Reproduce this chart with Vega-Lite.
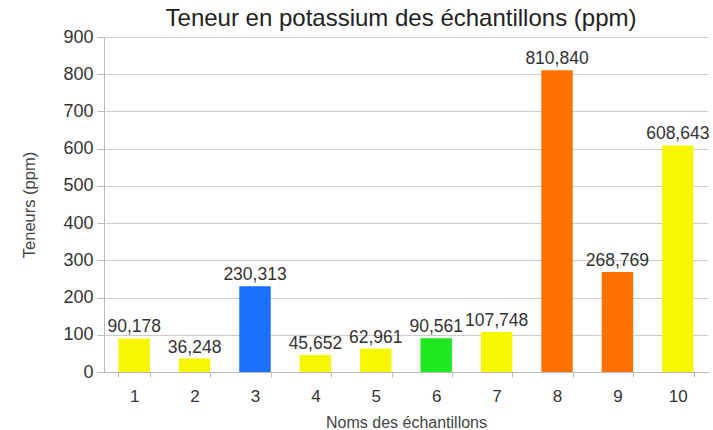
{
  "$schema": "https://vega.github.io/schema/vega-lite/v6.json",
  "width": 604,
  "height": 335,
  "autosize": "none",
  "padding": {"left": 104, "top": 37, "right": 5, "bottom": 58},
  "background": "white",
  "config": {
    "locale": {"number": {"decimal": ",", "thousands": " ", "grouping": [3], "currency": ["", " €"]}},
    "view": {"stroke": null},
    "font": "Liberation Sans"
  },
  "title": {
    "text": "Teneur en potassium des échantillons (ppm)",
    "fontSize": 24,
    "fontWeight": "normal",
    "color": "#222",
    "font": "Liberation Sans",
    "anchor": "middle",
    "offset": -3,
    "dx": -5
  },
  "data": {
    "values": [
      {"echantillon": "1", "teneur": 90.178, "groupe": "a"},
      {"echantillon": "2", "teneur": 36.248, "groupe": "a"},
      {"echantillon": "3", "teneur": 230.313, "groupe": "b"},
      {"echantillon": "4", "teneur": 45.652, "groupe": "a"},
      {"echantillon": "5", "teneur": 62.961, "groupe": "a"},
      {"echantillon": "6", "teneur": 90.561, "groupe": "c"},
      {"echantillon": "7", "teneur": 107.748, "groupe": "a"},
      {"echantillon": "8", "teneur": 810.84, "groupe": "d"},
      {"echantillon": "9", "teneur": 268.769, "groupe": "d"},
      {"echantillon": "10", "teneur": 608.643, "groupe": "a"}
    ]
  },
  "encoding": {
    "x": {
      "field": "echantillon",
      "type": "ordinal",
      "sort": null,
      "scale": {"paddingInner": 0.48, "paddingOuter": 0.24},
      "axis": {
        "title": "Noms des échantillons",
        "titleFontSize": 16,
        "titleFontWeight": "normal",
        "titleColor": "#444",
        "titlePadding": 10,
        "labelAngle": 0,
        "labelFontSize": 17,
        "labelColor": "#333",
        "labelPadding": 11,
        "tickBand": "extent",
        "tickColor": "#bbb",
        "tickSize": 5,
        "domainColor": "#bbb",
        "grid": false
      }
    },
    "y": {
      "field": "teneur",
      "type": "quantitative",
      "scale": {"domain": [0, 900]},
      "axis": {
        "title": "Teneurs (ppm)",
        "titleFontSize": 16.5,
        "titleFontWeight": "normal",
        "titleColor": "#444",
        "titlePadding": 25,
        "values": [0, 100, 200, 300, 400, 500, 600, 700, 800, 900],
        "format": "d",
        "labelFontSize": 18,
        "labelColor": "#333",
        "labelPadding": 4,
        "tickColor": "#bbb",
        "tickSize": 7,
        "domainColor": "#bbb",
        "gridColor": "#ccc"
      }
    }
  },
  "layer": [
    {
      "mark": {"type": "bar"},
      "encoding": {
        "color": {
          "field": "groupe",
          "type": "nominal",
          "scale": {"domain": ["a", "b", "c", "d"], "range": ["#f7f700", "#1a6fff", "#1ee81e", "#ff7200"]},
          "legend": null
        }
      }
    },
    {
      "mark": {"type": "text", "baseline": "alphabetic", "dy": -6, "fontSize": 17.5, "color": "#333"},
      "encoding": {
        "text": {"field": "teneur", "type": "quantitative", "format": ".3f"}
      }
    }
  ]
}
